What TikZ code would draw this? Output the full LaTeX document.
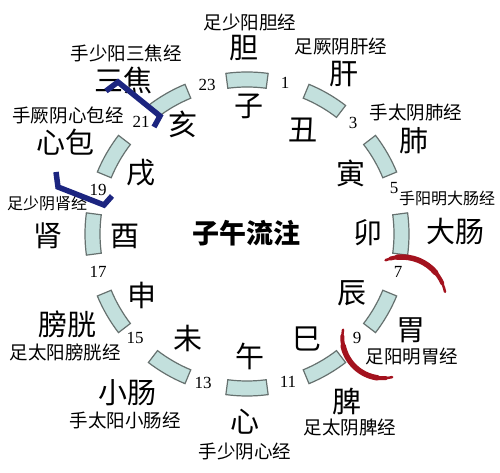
\documentclass[tikz,border=0pt]{standalone}
\usepackage{fontspec}
\setmainfont{Liberation Serif}
\newfontfamily\cjk{Noto Sans CJK SC}
\definecolor{segfill}{HTML}{C3E0DD}
\definecolor{segline}{HTML}{66716F}
\definecolor{navyb}{HTML}{1C2580}
\definecolor{dred}{HTML}{A3121E}
\begin{document}
\begin{tikzpicture}[x=1pt,y=1pt,
  seg/.style={fill=segfill,draw=segline,line width=1.2pt},
  big/.style={font=\cjk\fontsize{29}{29}\selectfont,inner sep=0pt},
  mer/.style={font=\cjk\fontsize{18.5}{19}\selectfont,inner sep=0pt},
  mersmall/.style={font=\cjk\fontsize{16}{16}\selectfont,inner sep=0pt},
  num/.style={font=\fontsize{17}{17}\selectfont,inner sep=0pt},
  title/.style={font=\cjk\bfseries\fontsize{27}{27}\selectfont,inner sep=0pt},
  bracket/.style={draw=navyb,line width=5.5pt,line cap=butt,line join=miter},
  rarc/.style={draw=dred,line cap=round}]
\fill[white] (0,0) rectangle (500,473);
\useasboundingbox (0,0) rectangle (500,473);
% segments
\foreach \a in {0,30,...,330}{
  \filldraw[seg,shift={(247,239)}] (\a-7.5:147) arc[start angle=\a-7.5,end angle=\a+7.5,radius=147]
    -- (\a+7.5:162) arc[start angle=\a+7.5,end angle=\a-7.5,radius=162] -- cycle;
}
% title
\node[title] (t) at (246,240) {子午流注};
% branches
\node[big] (b0) at (249,367) {子};
\node[big] (b1) at (303,343) {丑};
\node[big] (b2) at (351,300) {寅};
\node[big] (b3) at (368,240) {卯};
\node[big] (b4) at (352,180) {辰};
\node[big] (b5) at (307,134) {巳};
\node[big] (b6) at (250,117) {午};
\node[big] (b7) at (188,135) {未};
\node[big] (b8) at (142,178) {申};
\node[big] (b9) at (125,237) {酉};
\node[big] (b10) at (141,300) {戌};
\node[big] (b11) at (183,349) {亥};
% organs
\node[big] (o0) at (244,425) {胆};
\node[big] (o1) at (344,399) {肝};
\node[big] (o2) at (414,332) {肺};
\node[big] (o3) at (455,242) {大肠};
\node[big] (o4) at (411,143) {胃};
\node[big] (o5) at (347,72) {脾};
\node[big] (o6) at (245,51) {心};
\node[big] (o7) at (127,80) {小肠};
\node[big] (o8) at (67,149) {膀胱};
\node[big] (o9) at (48,237) {肾};
\node[big] (o10) at (65,331) {心包};
\node[big] (o11) at (123,393) {三焦};
% meridians
\node[mer] (m0) at (250,451) {足少阳胆经};
\node[mer] (m1) at (341,426) {足厥阴肝经};
\node[mer] (m2) at (416,360) {手太阴肺经};
\node[mersmall] (m3) at (447,275) {手阳明大肠经};
\node[mer] (m4) at (412,116) {足阳明胃经};
\node[mer] (m5) at (350,45) {足太阴脾经};
\node[mer] (m6) at (245,21) {手少阴心经};
\node[mer] (m7) at (125,53) {手太阳小肠经};
\node[mer] (m8) at (65,121) {足太阳膀胱经};
\node[mersmall] (m9) at (47,270) {足少阴肾经};
\node[mer] (m10) at (68,358) {手厥阴心包经};
\node[mer] (m11) at (126,420) {手少阳三焦经};
% hours
\node[num] (h23) at (207,388) {23};
\node[num] (h1) at (285,390) {1};
\node[num] (h3) at (353,350) {3};
\node[num] (h5) at (394,285) {5};
\node[num] (h7) at (398,201) {7};
\node[num] (h9) at (357,135) {9};
\node[num] (h11) at (288,91) {11};
\node[num] (h13) at (203,90) {13};
\node[num] (h15) at (135,135) {15};
\node[num] (h17) at (98,201) {17};
\node[num] (h19) at (98,283) {19};
\node[num] (h21) at (141,351) {21};
% blue brackets
\coordinate (p1) at (106,382);
\coordinate (p2) at (118,391);
\coordinate (p3) at (160,357);
\coordinate (p4) at (154,346);
\draw[bracket] (p1) -- (p2) -- (p3) -- (p4);
\coordinate (q1) at (56,301);
\coordinate (q2) at (58,286);
\coordinate (q3) at (104,268);
\coordinate (q4) at (112,277);
\draw[bracket] (q1) -- (q2) -- (q3) -- (q4);
% red arcs
\begin{scope}[shift={(402,172)}]
  \draw[rarc,line width=2.5pt] (112:44) arc[start angle=112,end angle=12,radius=44];
  \draw[rarc,line width=4pt] (105:44) arc[start angle=105,end angle=24,radius=44];
  \draw[rarc,line width=5.5pt] (96:44) arc[start angle=96,end angle=40,radius=44];
\end{scope}
\begin{scope}[shift={(383,135.5)}]
  \draw[rarc,line width=2.5pt] (169:40.7) arc[start angle=169,end angle=283,radius=40.7];
  \draw[rarc,line width=4pt] (178:40.7) arc[start angle=178,end angle=274,radius=40.7];
  \draw[rarc,line width=5.5pt] (192:40.7) arc[start angle=192,end angle=262,radius=40.7];
\end{scope}
\end{tikzpicture}
\end{document}
